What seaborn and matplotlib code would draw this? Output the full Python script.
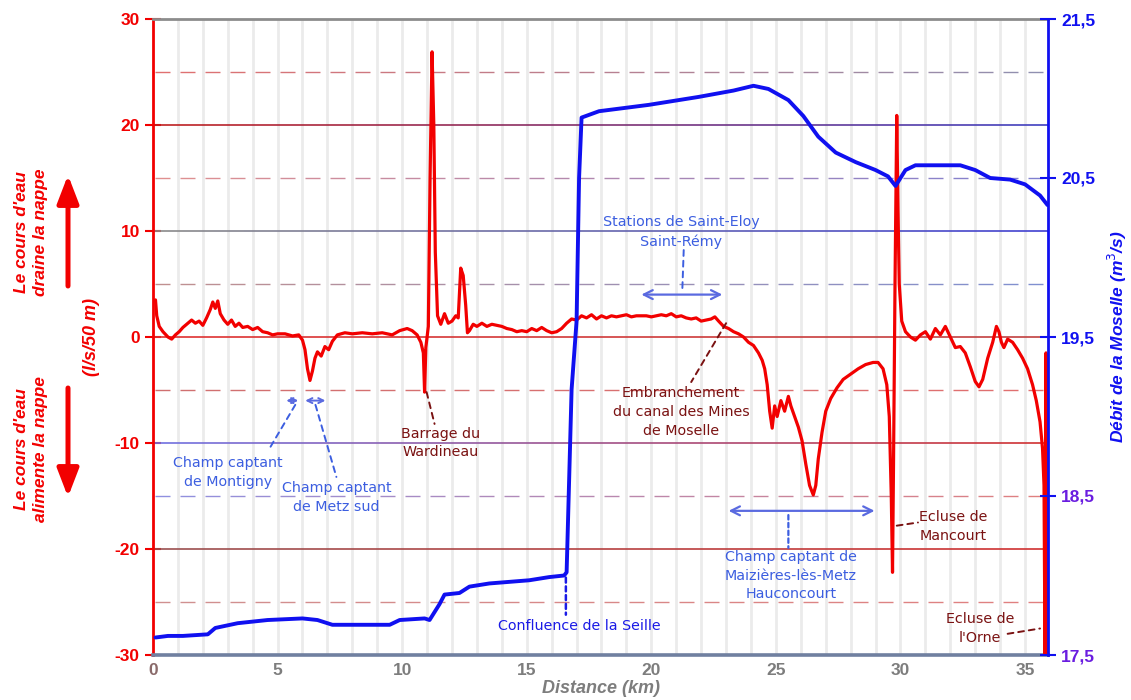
import numpy as np
import pandas as pd
import matplotlib
matplotlib.use("Agg")
import matplotlib.pyplot as plt
from matplotlib.collections import LineCollection
from matplotlib.colors import to_rgb
from matplotlib.patches import FancyArrowPatch
import seaborn as sns

# Exchange between river and aquifer (l/s per 50 m of river) along the Moselle
flux_km = [
    0.10, 0.15, 0.25, 0.40, 0.60, 0.75, 0.90, 1.05, 1.20, 1.40, 1.55, 1.70, 1.85, 2.00,
    2.15, 2.30, 2.40, 2.50, 2.60, 2.70, 2.85, 3.00, 3.15, 3.30, 3.45, 3.60, 3.80, 4.00,
    4.20, 4.40, 4.60, 4.80, 5.00, 5.30, 5.60, 5.85, 6.00, 6.10, 6.20, 6.30, 6.40, 6.50,
    6.60, 6.75, 6.90, 7.05, 7.20, 7.40, 7.70, 8.00, 8.40, 8.80, 9.20, 9.60, 9.90, 10.20,
    10.40, 10.60, 10.75, 10.85, 10.90, 10.95, 11.05, 11.12, 11.20, 11.27, 11.33, 11.42,
    11.55, 11.70, 11.85, 12.00, 12.15, 12.25, 12.35, 12.45, 12.55, 12.62, 12.70, 12.85,
    13.00, 13.20, 13.40, 13.60, 13.80, 14.00, 14.20, 14.40, 14.60, 14.80, 15.00, 15.20,
    15.40, 15.60, 15.80, 16.00, 16.20, 16.40, 16.60, 16.80, 17.00, 17.20, 17.40, 17.60,
    17.80, 18.00, 18.20, 18.40, 18.60, 18.80, 19.00, 19.20, 19.40, 19.60, 19.80, 20.00,
    20.20, 20.40, 20.60, 20.80, 21.00, 21.20, 21.40, 21.60, 21.80, 22.00, 22.20, 22.40,
    22.55, 22.70, 22.90, 23.10, 23.30, 23.50, 23.70, 23.90, 24.10, 24.30, 24.45, 24.55,
    24.65, 24.75, 24.85, 24.95, 25.05, 25.20, 25.35, 25.50, 25.60, 25.75, 25.90, 26.05,
    26.20, 26.35, 26.50, 26.60, 26.70, 26.85, 27.00, 27.20, 27.45, 27.70, 28.00, 28.30,
    28.60, 28.90, 29.10, 29.30, 29.45, 29.55, 29.63, 29.68, 29.72, 29.78, 29.85, 29.90,
    29.95, 30.05, 30.20, 30.40, 30.60, 30.80, 31.00, 31.20, 31.40, 31.60, 31.80, 32.00,
    32.20, 32.40, 32.60, 32.80, 33.00, 33.15, 33.30, 33.50, 33.70, 33.85, 33.95, 34.05,
    34.15, 34.30, 34.50, 34.70, 34.90, 35.10, 35.30, 35.45, 35.60, 35.70, 35.76, 35.80,
    35.84, 35.88,
]
flux_ls = [
    3.5, 2.0, 1.0, 0.5, 0.0, -0.2, 0.2, 0.5, 0.9, 1.3, 1.6, 1.3, 1.5, 1.1,
    1.8, 2.6, 3.3, 2.7, 3.4, 2.2, 1.6, 1.2, 1.6, 1.0, 1.3, 0.9, 1.0, 0.7,
    0.9, 0.5, 0.4, 0.2, 0.3, 0.3, 0.1, 0.2, -0.3, -1.2, -3.0, -4.1, -3.2, -2.0,
    -1.4, -1.8, -0.9, -1.2, -0.4, 0.2, 0.4, 0.3, 0.4, 0.3, 0.4, 0.2, 0.6, 0.8,
    0.6, 0.2, -0.5, -1.5, -5.2, -1.0, 1.0, 15.0, 26.9, 20.0, 8.0, 2.0,
    1.2, 2.2, 1.3, 1.5, 2.0, 1.8, 6.5, 5.8, 3.0, 0.4, 0.6, 1.2,
    1.0, 1.3, 1.0, 1.2, 1.1, 1.0, 0.8, 0.7, 0.5, 0.6, 0.5, 0.8,
    0.6, 0.9, 0.6, 0.4, 0.5, 0.8, 1.3, 1.7, 1.6, 2.0, 1.8, 2.1,
    1.7, 2.0, 1.8, 2.0, 1.9, 2.0, 2.1, 1.9, 2.0, 2.0, 2.0, 1.9,
    2.0, 2.1, 2.0, 2.2, 1.9, 2.0, 1.8, 1.7, 1.8, 1.5, 1.6, 1.7,
    1.9, 1.5, 1.0, 0.8, 0.5, 0.3, 0.0, -0.5, -0.8, -1.5, -2.2, -3.0,
    -4.5, -7.0, -8.6, -6.5, -7.5, -6.0, -7.0, -5.6, -6.5, -7.5, -8.5, -9.8,
    -12.0, -14.0, -14.9, -14.0, -11.5, -9.0, -7.0, -5.8, -4.8, -4.0, -3.5, -3.0,
    -2.6, -2.4, -2.4, -3.0, -4.5, -7.5, -15.0, -22.2, -12.0, 5.0, 20.9, 12.0,
    5.0, 1.5, 0.5, 0.0, -0.3, 0.2, 0.5, -0.2, 0.8, 0.2, 1.0, 0.0,
    -1.0, -0.9, -1.5, -2.8, -4.2, -4.7, -4.0, -2.0, -0.5, 1.0, 0.5, -0.5,
    -1.0, -0.2, -0.5, -1.2, -2.0, -3.0, -4.5, -6.0, -8.0, -10.5, -14.0, -30.0,
    -1.5, -30.0,
]

# Discharge of the Moselle (m3/s)
flow_km = [
    0.10, 0.60, 1.20, 2.20, 2.50, 3.40, 4.60, 6.00, 6.60, 7.20, 9.50, 9.90, 10.90, 11.10,
    11.50, 11.70, 12.30, 12.70, 13.50, 14.30, 15.10, 15.90, 16.50, 16.60, 16.80, 17.00,
    17.10, 17.20, 17.90, 19.90, 21.90, 23.30, 24.10, 24.70, 25.50, 26.10, 26.70, 27.40,
    28.20, 29.00, 29.50, 29.80, 30.20, 30.60, 32.40, 33.00, 33.60, 34.40, 35.00, 35.60,
    35.90,
]
flow_m3s = [
    17.61, 17.62, 17.62, 17.63, 17.67, 17.70, 17.72, 17.73, 17.72, 17.69, 17.69, 17.72,
    17.73, 17.72, 17.82, 17.88, 17.89, 17.93, 17.95, 17.96, 17.97, 17.99, 18.00, 18.02,
    19.17, 19.60, 20.50, 20.88, 20.92, 20.96, 21.01, 21.05, 21.08, 21.06, 20.99, 20.89,
    20.76, 20.66, 20.60, 20.55, 20.51, 20.45, 20.55, 20.58, 20.58, 20.55, 20.50, 20.49,
    20.46, 20.39, 20.33,
]

left_ticks = [-30, -20, -10, 0, 10, 20, 30]
right_ticks = [17.5, 18.5, 19.5, 20.5, 21.5]
right_tick_labels = ["17,5", "18,5", "19,5", "20,5", "21,5"]
x_ticks = [0, 5, 10, 15, 20, 25, 30, 35]

RED = "#f20000"
BLUE = "#1010f0"
LABEL_BLUE = "#3c5ee0"
DARK_RED = "#7a1212"
PURPLE = "#6a1de0"
GRAY = "#7d7d7d"

sns.set_theme(style="white")
plt.rcParams["font.family"] = ["Liberation Sans", "DejaVu Sans"]

fig = plt.figure(figsize=(11.31, 7.0), dpi=100)
ax = fig.add_axes([153 / 1131, 45 / 700, (1048 - 153) / 1131, (655 - 19) / 700])
ax.set_facecolor("white")
XMAX = 35.92
ax.set_xlim(0, XMAX)
ax.set_ylim(-30, 30)

# vertical light grid, one line per kilometre
for k in range(1, 36):
    ax.axvline(k, color="#ebebeb", lw=2.0, zorder=0)


def blended_hline(axis, y, c0, c1, dashed, lw):
    """Horizontal grid line whose colour drifts from c0 (left) to c1 (right)."""
    if dashed:
        starts = np.arange(0.1, XMAX, 1.0)
        segs = [[(x, y), (min(x + 0.6, XMAX), y)] for x in starts]
    else:
        xs = np.linspace(0, XMAX, 60)
        segs = [[(xs[i], y), (xs[i + 1], y)] for i in range(len(xs) - 1)]
    a, b = np.array(to_rgb(c0)), np.array(to_rgb(c1))
    t = np.linspace(0, 1, len(segs))
    cols = [tuple(a + (b - a) * ti) for ti in t]
    axis.add_collection(LineCollection(segs, colors=cols, linewidths=lw, zorder=1))


grid_lines = [
    (25, True, "#e07070", "#9090b0"),
    (20, False, "#c02020", "#4040c0"),
    (15, True, "#e09090", "#8080d0"),
    (10, False, "#8a8a8a", "#4040d0"),
    (5, True, "#c09090", "#8090d0"),
    (0, False, "#e03030", "#c04040"),
    (-5, True, "#d07070", "#e07070"),
    (-10, False, "#7070e0", "#d03030"),
    (-15, True, "#9090e0", "#e08080"),
    (-20, False, "#9a5050", "#d03030"),
    (-25, True, "#d09090", "#e08080"),
]
for y, dashed, c0, c1 in grid_lines:
    blended_hline(ax, y, c0, c1, dashed, 1.0 if dashed else 1.2)

# red series: exchange river/aquifer
flux = pd.DataFrame({"km": flux_km, "ls": flux_ls})
sns.lineplot(data=flux, x="km", y="ls", ax=ax, color=RED, lw=2.3, zorder=3,
             sort=False, estimator=None)

ax.set_yticks(left_ticks)
ax.set_yticklabels([str(v) for v in left_ticks], color=RED, fontweight="bold", fontsize=12.5)
ax.set_xticks(x_ticks)
ax.set_xticklabels([str(v) for v in x_ticks], color=GRAY, fontweight="bold", fontsize=12.5)
ax.get_xticklabels()[0].set_color("#8a6a6a")
ax.tick_params(axis="y", direction="inout", length=11, width=1.5, color=RED, pad=4)
ax.tick_params(axis="x", length=0, pad=6)
ax.set_xlabel("Distance (km)", color=GRAY, fontsize=13, fontweight="bold",
              fontstyle="italic", labelpad=1)
ax.set_ylabel("(l/s/50 m)", color=RED, fontsize=13, fontweight="bold",
              fontstyle="italic")
ax.yaxis.set_label_coords(-53 / 895, 0.5)
ax.grid(False)

for side in ["top", "bottom", "left"]:
    ax.spines[side].set_visible(True)
ax.spines["left"].set_color(RED)
ax.spines["left"].set_linewidth(2.0)
ax.spines["top"].set_color("#8c8c8c")
ax.spines["top"].set_linewidth(2.0)
ax.spines["bottom"].set_color("#7080a0")
ax.spines["bottom"].set_linewidth(2.6)
ax.spines["right"].set_visible(False)

# blue series on the secondary axis: river discharge
ax2 = ax.twinx()
ax2.set_ylim(17.5, 21.5)
flow = pd.DataFrame({"km": flow_km, "q": flow_m3s})
sns.lineplot(data=flow, x="km", y="q", ax=ax2, color=BLUE, lw=2.8, zorder=4,
             sort=False, estimator=None)
ax2.set_yticks(right_ticks)
ax2.set_yticklabels(right_tick_labels, fontweight="bold", fontsize=12.5)
for lbl, v in zip(ax2.get_yticklabels(), right_ticks):
    lbl.set_color(PURPLE if v < 19 else BLUE)
ax2.tick_params(axis="y", direction="inout", length=11, width=1.5, color=BLUE, pad=4)
ax2.set_ylabel("Débit de la Moselle (m$^{3}$/s)", color=BLUE, fontsize=12.5,
               fontweight="bold", fontstyle="italic")
ax2.yaxis.set_label_coords(1 + 58 / 895, 0.5)
ax2.set_xlabel("")
ax2.grid(False)
for side in ["top", "bottom", "left"]:
    ax2.spines[side].set_visible(False)
ax2.spines["right"].set_color(BLUE)
ax2.spines["right"].set_linewidth(2.0)
ax2.set_xlim(0, XMAX)

# annotations (all in the exchange-axis coordinates)
ann_kw = dict(fontsize=10.3, ha="center", va="center", linespacing=1.45,
              family=["DejaVu Sans"], zorder=6)


def leader(p0, p1, color, style=(0, (3, 2.5)), lw=1.4):
    ax.annotate("", xy=p1, xytext=p0,
                arrowprops=dict(arrowstyle="-", color=color, lw=lw, linestyle=style,
                                shrinkA=0, shrinkB=0), zorder=6)


def span(x0, x1, y, color, lw=1.6, scale=16):
    ax.annotate("", xy=(x0, y), xytext=(x1, y),
                arrowprops=dict(arrowstyle="<->", color=color, lw=lw,
                                mutation_scale=scale, shrinkA=0, shrinkB=0), zorder=6)


ax.text(21.2, 9.9, "Stations de Saint-Eloy\nSaint-Rémy", color=LABEL_BLUE, **ann_kw)
span(19.6, 22.85, 4.0, "#5a6ae0")
leader((21.3, 8.2), (21.24, 4.2), LABEL_BLUE)

ax.text(21.2, -7.1, "Embranchement\ndu canal des Mines\nde Moselle", color=DARK_RED, **ann_kw)
leader((23.0, 1.3), (21.6, -4.25), DARK_RED)

ax.text(11.55, -10.0, "Barrage du\nWardineau", color=DARK_RED, **ann_kw)
leader((10.98, -5.2), (11.3, -8.2), DARK_RED)

ax.text(3.0, -12.8, "Champ captant\nde Montigny", color=LABEL_BLUE, **ann_kw)
ax.text(7.36, -15.1, "Champ captant\nde Metz sud", color=LABEL_BLUE, **ann_kw)
span(5.35, 5.83, -6.0, "#5a6ae0", lw=1.4, scale=9)
span(6.11, 6.92, -6.0, "#5a6ae0", lw=1.4, scale=9)
leader((5.71, -6.4), (4.63, -10.7), LABEL_BLUE)
leader((6.52, -6.4), (7.36, -13.2), LABEL_BLUE)

ax.text(17.1, -27.3, "Confluence de la Seille", color="#1a1ae6", **ann_kw)
leader((16.57, -22.7), (16.57, -26.2), "#1a1ae6", style=(0, (2, 1.5)), lw=1.8)

ax.text(25.6, -22.5, "Champ captant de\nMaizières-lès-Metz\nHauconcourt", color=LABEL_BLUE,
        **ann_kw)
span(23.1, 28.96, -16.4, "#5a6ae0")
leader((25.5, -16.8), (25.5, -19.9), LABEL_BLUE, style=(0, (2, 1.5)), lw=1.6)

ax.text(32.1, -17.9, "Ecluse de\nMancourt", color=DARK_RED, **ann_kw)
leader((29.85, -17.8), (30.7, -17.5), DARK_RED)

ax.text(33.2, -27.5, "Ecluse de\nl'Orne", color=DARK_RED, **ann_kw)
leader((34.3, -28.0), (35.6, -27.5), DARK_RED)

# explanatory side labels with direction arrows
side_kw = dict(color=RED, fontsize=12.5, fontweight="bold", fontstyle="italic",
               rotation=90, ha="center", va="center", linespacing=1.25)
fig.text(31 / 1131, 1 - 232 / 700, "Le cours d'eau\ndraine la nappe", **side_kw)
fig.text(31 / 1131, 1 - 449 / 700, "Le cours d'eau\nalimente la nappe", **side_kw)
arrow_kw = dict(arrowstyle="-|>,head_length=1.3,head_width=0.5", color=RED, lw=3.6,
                mutation_scale=13, shrinkA=0, shrinkB=0)
fig.add_artist(FancyArrowPatch(
    (68 / 1131, 1 - 286 / 700), (68 / 1131, 1 - 175 / 700),
    transform=fig.transFigure, **arrow_kw))
fig.add_artist(FancyArrowPatch(
    (68 / 1131, 1 - 388 / 700), (68 / 1131, 1 - 497 / 700),
    transform=fig.transFigure, **arrow_kw))

fig.savefig("out.png", dpi=100, facecolor="white")
